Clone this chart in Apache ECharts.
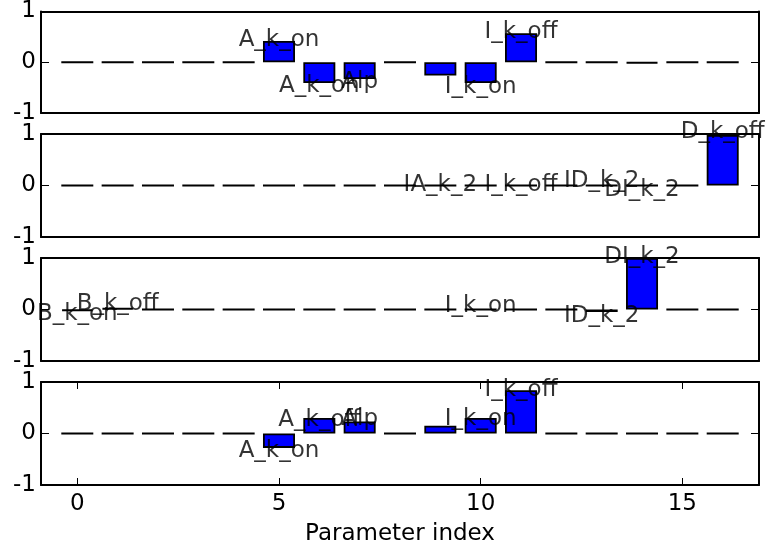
<!DOCTYPE html>
<html>
<head>
<meta charset="utf-8">
<script src="https://cdn.jsdelivr.net/npm/echarts@6/dist/echarts.min.js"></script>
<style>
html, body { margin: 0; padding: 0; background: #fff; }
#container { width: 770px; height: 552px; }
</style>
</head>
<body>
<div id="container"></div>
<script>
// parameter index on the x axis
var paramIndex = [0, 1, 2, 3, 4, 5, 6, 7, 8, 9, 10, 11, 12, 13, 14, 15, 16];
var xTicks = [0, 5, 10, 15];

// bar heights, one list per panel (top to bottom)
var values1 = [0, 0, 0, 0, 0, 0.42, -0.41, -0.33, 0, -0.26, -0.41, 0.57, 0, 0, -0.02, 0, 0];
var values2 = [0, 0, 0, 0, 0, 0, 0, 0, 0, 0, 0, 0, 0, 0, 0, 0, 0.98];
var values3 = [-0.03, 0.03, 0, 0, 0, 0, 0, 0, 0, 0, 0, 0, 0, -0.05, 1.0, 0, 0];
var values4 = [0, 0, 0, 0, 0, -0.28, 0.30, 0.235, 0, 0.15, 0.30, 0.84, 0, 0, 0, 0, 0];

// parameter names written next to the bars: [index, y, name]
var labels1 = [[5, 0.44, 'A_k_on'], [6, -0.47, 'A_k_on'], [7, -0.38, 'Alp'], [10, -0.48, 'I_k_on'], [11, 0.59, 'I_k_off']];
var labels2 = [[9, 0.0, 'IA_k_2'], [11, 0.0, 'I_k_off'], [13, 0.09, 'ID_k_2'], [14, -0.09, 'DI_k_2'], [16, 1.04, 'D_k_off']];
var labels3 = [[0, -0.08, 'B_k_on'], [1, 0.1, 'B_k_off'], [10, 0.07, 'I_k_on'], [13, -0.13, 'ID_k_2'], [14, 1.02, 'DI_k_2']];
var labels4 = [[5, -0.35, 'A_k_on'], [6, 0.27, 'A_k_off'], [7, 0.28, 'Alp'], [10, 0.29, 'I_k_on'], [11, 0.84, 'I_k_off']];

var allValues = [values1, values2, values3, values4];
var allLabels = [labels1, labels2, labels3, labels4];

var font = 'DejaVu Sans';
var fontSize = 23;
var tops = [10, 134, 258, 382];
var frame = { show: true, onZero: false, lineStyle: { color: '#000', width: 2 } };

var grid = [], xAxis = [], yAxis = [], series = [];

for (var i = 0; i < 4; i++) {
    var last = (i === 3);
    grid.push({ left: 41, right: 11, top: tops[i], height: 103 });

    // bottom and top x axes, ticks only on the last panel
    ['bottom', 'top'].forEach(function (pos) {
        var main = (pos === 'bottom' && last);
        xAxis.push({
            type: 'value', gridIndex: i, position: pos, min: -0.9, max: 16.9,
            splitLine: { show: false },
            axisLine: frame,
            axisTick: { show: last, inside: true, length: 7, customValues: xTicks, lineStyle: { color: '#000', width: 1 } },
            axisLabel: { show: main, customValues: xTicks, color: '#000', fontFamily: font, fontSize: fontSize, margin: 8 },
            name: main ? 'Parameter index' : '',
            nameLocation: 'middle',
            nameGap: 38,
            nameTextStyle: { color: '#000', fontFamily: font, fontSize: fontSize }
        });
    });
    // left and right y axes
    ['left', 'right'].forEach(function (pos) {
        yAxis.push({
            type: 'value', gridIndex: i, position: pos, min: -1, max: 1, interval: 1,
            splitLine: { show: false },
            axisLine: frame,
            axisTick: { inside: true, length: 8, lineStyle: { color: '#000', width: 1 } },
            axisLabel: { show: pos === 'left', color: '#000', fontFamily: font, fontSize: fontSize, margin: 5 }
        });
    });

    series.push({
        type: 'bar', xAxisIndex: i * 2, yAxisIndex: i * 2,
        barWidth: 32,
        data: paramIndex.map(function (x, k) { return [x, allValues[i][k]]; }),
        itemStyle: { color: '#0000ff', borderColor: '#000', borderWidth: 1.8 },
        silent: true
    });
    series.push({
        type: 'scatter', xAxisIndex: i * 2, yAxisIndex: i * 2,
        symbolSize: 1, clip: false, silent: true, z: 10,
        itemStyle: { color: 'rgba(0,0,0,0)' },
        data: allLabels[i],
        label: {
            show: true, position: 'inside', color: '#000',
            fontFamily: font, fontSize: fontSize,
            formatter: function (p) { return p.value[2]; }
        }
    });
}

var chart = echarts.init(document.getElementById('container'));
chart.setOption({
    animation: false,
    backgroundColor: '#fff',
    grid: grid,
    xAxis: xAxis,
    yAxis: yAxis,
    series: series
});
</script>
</body>
</html>
